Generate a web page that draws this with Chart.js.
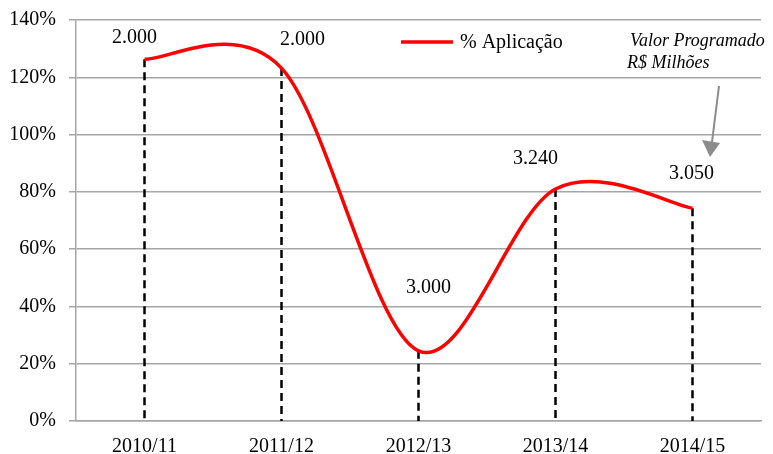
<!DOCTYPE html>
<html>
<head>
<meta charset="utf-8">
<script src="https://cdn.jsdelivr.net/npm/chart.js@4.4.1/dist/chart.umd.min.js"></script>
<style>
  html, body { margin: 0; padding: 0; background: #fff; }
  #wrap { width: 773px; height: 454px; }
</style>
</head>
<body>
<div id="wrap"><canvas id="chart" width="773" height="454"></canvas></div>
<script>
// Data
const categories = ['2010/11', '2011/12', '2012/13', '2013/14', '2014/15'];
const aplicacao = [126.3, 123.2, 24.5, 81, 74.3];          // % Aplicação
const valorProgramado = ['2.000', '2.000', '3.000', '3.240', '3.050']; // R$ Milhões
const yTicks = [0, 20, 40, 60, 80, 100, 120, 140];

const FONT = '"Liberation Serif", "Times New Roman", serif';
const GRID = '#a6a6a6';
// label placement relative to its point, px
const labelOffsets = [[-10, -21], [21, -28], [10, -63], [-20, -30], [-1, -34]];

// Excel-like smoothing: uniform Catmull-Rom control points
const smoothLine = {
  id: 'smoothLine',
  beforeDatasetsDraw(chart) {
    const meta = chart.getDatasetMeta(0);
    const line = meta.dataset;
    if (line.updateControlPoints) line.updateControlPoints(chart.chartArea, 'x');
    const pts = meta.data;
    pts.forEach((p, i) => {
      const prev = pts[i - 1] || p;
      const next = pts[i + 1] || p;
      const tx = (next.x - prev.x) / 6;
      const ty = (next.y - prev.y) / 6;
      p.cp1x = p.x - tx; p.cp1y = p.y - ty;
      p.cp2x = p.x + tx; p.cp2y = p.y + ty;
    });
    line._path = undefined;
  }
};

// dashed drop lines from each point down to the axis
const dropLines = {
  id: 'dropLines',
  beforeDatasetsDraw(chart) {
    const { ctx, chartArea } = chart;
    const meta = chart.getDatasetMeta(0);
    ctx.save();
    ctx.strokeStyle = '#000';
    ctx.lineWidth = 2.5;
    ctx.setLineDash([8, 5]);
    meta.data.forEach(pt => {
      ctx.beginPath();
      ctx.moveTo(pt.x, pt.y);
      ctx.lineTo(pt.x, chartArea.bottom);
      ctx.stroke();
    });
    ctx.restore();
  }
};

// value labels, legend and the note with its arrow
const extras = {
  id: 'extras',
  afterDraw(chart) {
    const { ctx } = chart;
    const meta = chart.getDatasetMeta(0);
    ctx.save();
    ctx.fillStyle = '#000';
    ctx.font = '20px ' + FONT;
    ctx.textAlign = 'center';
    ctx.textBaseline = 'middle';
    valorProgramado.forEach((txt, i) => {
      const pt = meta.data[i];
      ctx.fillText(txt, pt.x + labelOffsets[i][0], pt.y + labelOffsets[i][1]);
    });

    // legend
    ctx.strokeStyle = '#ff0000';
    ctx.lineWidth = 3.5;
    ctx.setLineDash([]);
    ctx.beginPath();
    ctx.moveTo(401, 42);
    ctx.lineTo(453, 42);
    ctx.stroke();
    ctx.textAlign = 'left';
    ctx.fillText(chart.data.datasets[0].label, 460, 43);

    // note
    ctx.font = 'italic 18px ' + FONT;
    ctx.fillText('Valor Programado', 630, 41);
    ctx.fillText('R$ Milhões', 627, 63);

    // arrow
    ctx.strokeStyle = '#8c8c8c';
    ctx.fillStyle = '#8c8c8c';
    ctx.lineWidth = 2;
    ctx.beginPath();
    ctx.moveTo(719, 86);
    ctx.lineTo(712, 142);
    ctx.stroke();
    ctx.beginPath();
    ctx.moveTo(702, 140);
    ctx.lineTo(720, 143);
    ctx.lineTo(710, 157);
    ctx.closePath();
    ctx.fill();
    ctx.restore();
  }
};

new Chart(document.getElementById('chart'), {
  type: 'line',
  data: {
    labels: categories,
    datasets: [{
      label: '% Aplicação',
      data: aplicacao,
      borderColor: '#ff0000',
      borderWidth: 3.5,
      pointRadius: 0,
      tension: 0.4,
      fill: false
    }]
  },
  options: {
    responsive: false,
    animation: false,
    layout: { padding: { top: 20, right: 12, left: 0, bottom: 0 } },
    plugins: {
      legend: { display: false },
      tooltip: { enabled: false }
    },
    scales: {
      x: {
        offset: true,
        grid: { display: false },
        border: { display: true, color: GRID, width: 1.5 },
        ticks: { color: '#000', font: { family: FONT, size: 20 }, padding: 6, maxRotation: 0 },
        afterFit(scale) {
          scale.height = 33;
          scale.paddingLeft = 0;
          scale.paddingRight = 0;
        }
      },
      y: {
        min: 0,
        max: 140,
        afterBuildTicks(scale) { scale.ticks = yTicks.map(v => ({ value: v })); },
        grid: { color: GRID, lineWidth: 1.5, tickLength: 7, drawTicks: true },
        border: { display: true, color: GRID, width: 1.5 },
        ticks: {
          color: '#000',
          font: { family: FONT, size: 20 },
          padding: 13,
          callback: v => v + '%'
        },
        afterFit(scale) {
          scale.width = 76;
          scale.paddingTop = 0;
          scale.paddingBottom = 0;
        }
      }
    }
  },
  plugins: [smoothLine, dropLines, extras]
});
</script>
</body>
</html>
